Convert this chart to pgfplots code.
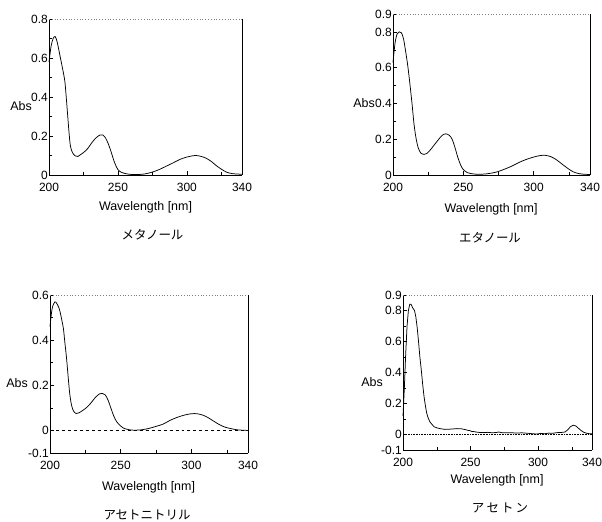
\documentclass[border=0pt]{standalone}
\usepackage{fontspec}
\setmainfont{Liberation Sans}
\newfontfamily\jp{Noto Sans CJK JP}
\usepackage{pgfplots}
\pgfplotsset{compat=1.18}
\pgfplotsset{
  spec/.style={
    scale only axis,
    anchor=south west,
    xmin=200, xmax=340,
    axis lines*=left,
    axis line style={-, black, line width=0.7pt},
    tick align=inside,
    major tick length=4bp,
    minor tick length=3bp,
    every tick/.style={black, line width=0.5pt},
    xtick={200,250,300,340},
    xticklabels={200,250,300,340},
    minor xtick={225,275,325},
    tick label style={font=\fontsize{12}{13}\selectfont},
    /pgf/number format/assume math mode=true,
    yticklabel style={inner sep=1bp},
    xticklabel style={inner sep=2bp, yshift=-6bp},
    clip=false,
  },
  curve/.style={black, line width=0.75pt, smooth, tension=0.5, no marks},
}
\newcommand{\frametop}{%
  \draw[gray, dotted, line width=0.8pt] (rel axis cs:0,1) -- (rel axis cs:1,1);
  \draw[black, line width=0.8pt] (rel axis cs:1,0) -- (rel axis cs:1,1);}
\begin{document}
\begin{tikzpicture}
\path[use as bounding box, fill=white] (0,0) rectangle (602bp,522bp);

% Methanol
\begin{axis}[spec, at={(49bp,347bp)}, width=193bp, height=156bp,
  ymin=0, ymax=0.8, ytick={0,0.2,0.4,0.6,0.8}, yticklabels={0,0.2,0.4,0.6,0.8},
  minor ytick={0.1,0.3,0.5,0.7}]
\addplot[curve] coordinates {
(200,0.58) (201.5,0.66) (203,0.70) (204.5,0.71) (206,0.68) (208,0.61) (210,0.54)
(211.5,0.48) (212.5,0.40) (213.5,0.31) (214.5,0.22) (215.5,0.15) (217,0.115)
(219,0.098) (221,0.095) (223,0.105) (225,0.115) (228,0.135) (231,0.165) (234,0.19)
(237,0.205) (239,0.205) (241,0.19) (243,0.16) (245,0.12) (247,0.075) (249,0.04)
(251,0.02) (254,0.01) (258,0.004) (262,0.002) (266,0.003) (270,0.006) (275,0.015)
(280,0.028) (285,0.045) (290,0.062) (295,0.08) (300,0.092) (306,0.10) (310,0.096)
(314,0.086) (318,0.068) (321,0.05) (325,0.03) (329,0.014) (333,0.007) (336,0.005) (340,0.004)};
\frametop
\end{axis}

% Ethanol
\begin{axis}[spec, at={(393bp,347bp)}, width=197bp, height=161bp,
  ymin=0, ymax=0.9, ytick={0,0.2,0.4,0.6,0.8,0.9}, yticklabels={0,0.2,0.4,0.6,0.8,0.9},
  minor ytick={0.1,0.3,0.5,0.7}]
\addplot[curve] coordinates {
(200,0.63) (201.5,0.74) (203,0.79) (204.5,0.80) (206,0.795) (207.5,0.76) (209,0.69)
(210.5,0.61) (212,0.51) (213.5,0.40) (215,0.28) (216.5,0.20) (218,0.15) (220,0.12)
(222,0.115) (224,0.12) (226.5,0.14) (229,0.165) (232,0.195) (235,0.222) (237.5,0.23)
(240,0.222) (242,0.20) (244,0.155) (246,0.10) (248,0.057) (250,0.03) (253,0.013)
(257,0.006) (261,0.004) (266,0.006) (271,0.012) (275,0.02) (280,0.035) (284,0.048)
(289,0.068) (294,0.085) (299,0.098) (304,0.108) (308,0.11) (312,0.103) (316,0.086)
(320,0.062) (324,0.038) (328,0.018) (332,0.008) (336,0.004) (340,0.003)};
\frametop
\end{axis}

% Acetonitrile
\begin{axis}[spec, at={(50bp,69bp)}, width=198bp, height=158bp,
  ymin=-0.1, ymax=0.6, ytick={-0.1,0,0.2,0.4,0.6}, yticklabels={-0.1,0,0.2,0.4,0.6},
  minor ytick={0.1,0.3,0.5}]
\addplot[black, dashed, line width=0.5pt, no marks] coordinates {(200,0) (340,0)};
\addplot[curve] coordinates {
(200,0.46) (201.5,0.54) (203.5,0.57) (205,0.56) (206.5,0.54) (208,0.50) (209.5,0.45)
(210.5,0.39) (211.7,0.32) (212.8,0.24) (214,0.16) (215.3,0.11) (216.7,0.085)
(218.5,0.075) (220.5,0.078) (223,0.088) (226,0.102) (229,0.122) (232,0.146)
(235,0.162) (237,0.164) (239,0.158) (241,0.135) (243,0.10) (245,0.065) (247,0.04)
(249.5,0.022) (252,0.01) (256,0.003) (260,0.001) (265,0.003) (270,0.009) (275,0.018)
(280,0.028) (285,0.045) (290,0.058) (295,0.068) (300,0.074) (304,0.074) (308,0.068)
(312,0.056) (316,0.04) (320,0.025) (324,0.014) (328,0.008) (332,0.003) (336,0.001) (340,0.0)};
\frametop
\end{axis}

% Acetone
\begin{axis}[spec, at={(403bp,72bp)}, width=189bp, height=155bp,
  ymin=-0.1, ymax=0.9, ytick={-0.1,0,0.2,0.4,0.6,0.8,0.9}, yticklabels={-0.1,0,0.2,0.4,0.6,0.8,0.9},
  minor ytick={0.1,0.3,0.5,0.7}]
\addplot[black, densely dotted, line width=0.6pt, no marks] coordinates {(200,0) (340,0)};
\addplot[black, line width=0.75pt, no marks] coordinates {
(200,0.12) (201,0.30) (202,0.52) (203,0.70) (204,0.80) (205,0.84) (206,0.84) (207,0.82)
(208.5,0.80) (209.5,0.76) (210.5,0.69) (211.5,0.60) (212.5,0.50) (213.5,0.42)
(214.5,0.33) (215.5,0.25) (216.5,0.19) (217.5,0.14) (218.5,0.11) (220,0.08)
(221.5,0.065) (223,0.05) (225,0.043) (228,0.037) (231,0.033) (234,0.034) (237,0.036)
(240,0.038) (243,0.037) (246,0.032) (248,0.027) (250,0.024) (251,0.018) (252,0.02)
(254,0.016) (257,0.013) (260,0.012) (263,0.014) (266,0.011) (269,0.013) (271,0.016)
(273,0.012) (276,0.011) (280,0.012) (284,0.009) (288,0.011) (292,0.008) (296,0.005)
(299,0.003) (302,0.007) (305,0.005) (308,0.009) (311,0.008) (314,0.012) (317,0.013)
(320,0.016) (322,0.03) (324,0.05) (326,0.06) (328,0.055) (330,0.04) (332,0.025)
(334,0.014) (336,0.008) (338,0.005) (340,0.004)};
\frametop
\end{axis}

% labels
\begin{scope}[every node/.style={font=\fontsize{12.5}{14}\selectfont, inner sep=0pt}]
\node at (21bp,416bp) {Abs};
\node at (364bp,419bp) {Abs};
\node at (17bp,139bp) {Abs};
\node at (372bp,140bp) {Abs};
\node at (145.5bp,315bp) {Wavelength [nm]};
\node at (491bp,313bp) {Wavelength [nm]};
\node at (148.5bp,35bp) {Wavelength [nm]};
\node at (497bp,42bp) {Wavelength [nm]};
\end{scope}
\begin{scope}[every node/.style={font=\jp\fontsize{12.5}{14}\selectfont, inner sep=0pt}]
\node at (152.5bp,287bp) {メタノール};
\node at (490bp,284bp) {エタノール};
\node at (147bp,7bp) {アセトニトリル};
\node at (500bp,14bp) {ア\,セ\,ト\,ン};
\end{scope}
\end{tikzpicture}
\end{document}
